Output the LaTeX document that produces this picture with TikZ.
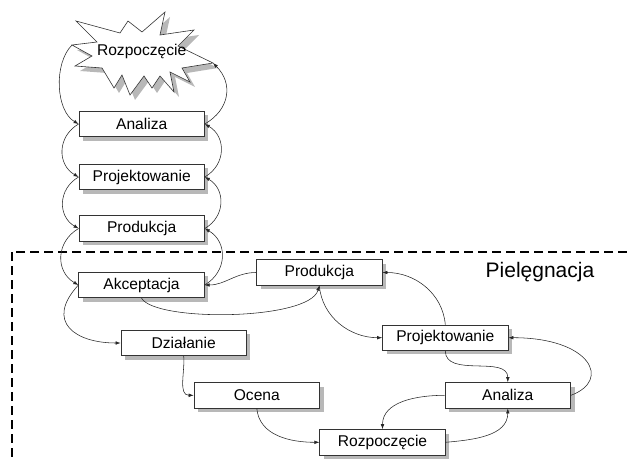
\documentclass[tikz,border=0pt]{standalone}
\usepackage{fontspec}
\setmainfont{Liberation Sans}
\usetikzlibrary{arrows.meta,shadows}
\begin{document}
\begin{tikzpicture}[x=1pt,y=-1pt,
  box/.style={draw=black!80, line width=0.7pt, fill=white,
    minimum width=125.5pt, minimum height=25.5pt, inner sep=0pt,
    font=\fontsize{15.6}{18}\selectfont,
    drop shadow={shadow xshift=4pt, shadow yshift=-4pt, fill=black!28, opacity=1}},
  link/.style={draw=black!85, line width=0.55pt, -{Latex[length=5pt,width=3.6pt]}},
  burst/.style={draw=black!80, line width=0.6pt, fill=white},
  burstshadow/.style={fill=black!28, draw=none},
  frame/.style={line width=2.2pt, dash pattern=on 9pt off 5pt},
]
\useasboundingbox (0,0) rectangle (627,460);

% explosion shape holding the first "Rozpoczęcie"
\def\burstpath{(76,21) -- (120,33) -- (128,21) -- (142,32) -- (165,12) -- (160,35)
  -- (194,30) -- (178,46) -- (213,63) -- (182,68) -- (190,82) -- (170,72)
  -- (174,92) -- (160,76) -- (152,88) -- (144,76) -- (130,95) -- (122,75)
  -- (114,88) -- (102,68) -- (75,66) -- (92,56) -- (72,45) -- (97,42) -- cycle}
\begin{scope}[shift={(5,5)}]
  \path[burstshadow] \burstpath;
\end{scope}
\path[burst] \burstpath;
\node[font=\fontsize{15.6}{18}\selectfont] (start) at (141.7,51) {Rozpoczęcie};
\coordinate (startL) at (72,45);
\coordinate (startR) at (213,63);

% first development cycle
\node[box] (anaL)  at (141.7,124)   {Analiza};
\node[box] (projL) at (141.7,177)   {Projektowanie};
\node[box] (prodL) at (141.7,228.5) {Produkcja};
\node[box] (akc)   at (141.5,285)   {Akceptacja};

% maintenance region
\coordinate (frameR) at (627,251.7);
\coordinate (frameC) at (11.7,251.7);
\coordinate (frameB) at (11.7,460);
\draw[frame] (frameR) -- (frameC) -- (frameB);
\node[font=\fontsize{21}{24}\selectfont, anchor=base] (maint) at (540,277) {Pielęgnacja};

\node[box] (dzi)   at (183.7,343)   {Działanie};
\node[box] (ocena) at (256.8,395.3) {Ocena};
\node[box] (rozR)  at (382.5,442.3) {Rozpoczęcie};
\node[box] (anaR)  at (507.8,395.3) {Analiza};
\node[box] (projR) at (445.3,337.7) {Projektowanie};
\node[box] (prodR) at (319.3,272.5) {Produkcja};

% forward steps on the left side
\draw[link] (startL) to[out=225,in=150,looseness=0.85] (anaL.west);
\draw[link] (anaL.west)  to[out=210,in=150,looseness=1.2] (projL.west);
\draw[link] (projL.west) to[out=210,in=150,looseness=1.2] (prodL.west);
\draw[link] (prodL.west) to[out=210,in=150,looseness=1.2] (akc.west);

% backward steps on the right side
\draw[link] (anaL.east)  to[out=30,in=-45,looseness=1.2] (startR);
\draw[link] (projL.east) to[out=30,in=-30,looseness=1.2] (anaL.east);
\draw[link] (prodL.east) to[out=30,in=-30,looseness=1.2] (projL.east);
\draw[link] (akc.east)   to[out=30,in=-30,looseness=1.2] (prodL.east);

% maintenance loop
\draw[link] (akc.west) .. controls +(-34,37) and +(-45,0) .. (dzi.west);
\draw[link] (dzi.south) to[out=-85,in=180] (ocena.west);
\draw[link] (ocena.south) to[out=-85,in=180] (rozR.west);
\draw[link] (rozR.east) to[out=5,in=-90] (anaR.south);
\draw[link] (anaR.west) to[out=180,in=90] (rozR.north);
\draw[link] (anaR.east) .. controls +(41,-15) and +(82,0) .. (projR.east);
\draw[link] (projR.south) to[out=-90,in=90] (anaR.north);
\draw[link] (projR.north) to[out=95,in=0] (prodR.east);
\draw[link] (prodR.south) to[out=-85,in=180] (projR.west);
\draw[link] (prodR.west) to[out=180,in=0] (akc.east);
\draw[link] (akc.south) .. controls +(13.5,24) and +(-10,35) .. (prodR.south);
\end{tikzpicture}
\end{document}
